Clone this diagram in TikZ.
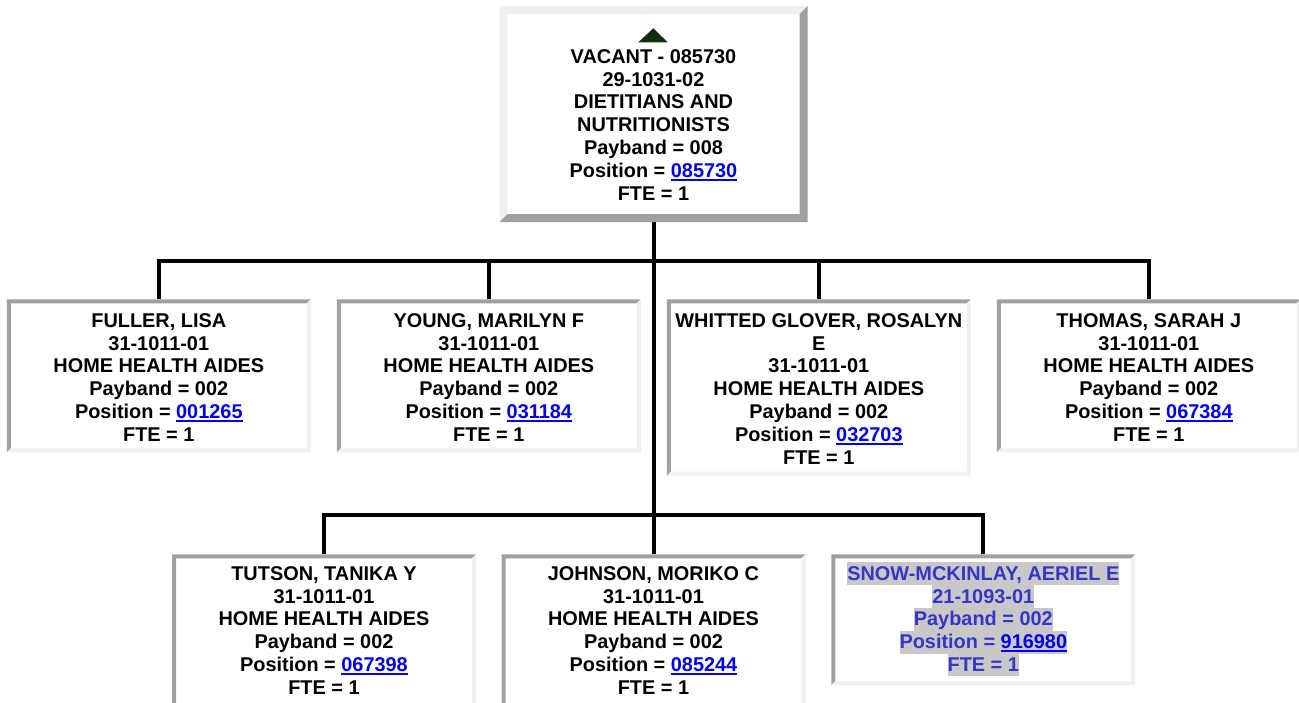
\documentclass[tikz,border=0pt]{standalone}
\usepackage{fontspec}
\setmainfont{Liberation Sans}
\definecolor{bdark}{HTML}{A0A0A0}
\definecolor{blight}{HTML}{F0F0F0}
\definecolor{linkblue}{HTML}{0000EE}
\definecolor{snowblue}{HTML}{3535C8}
\definecolor{hlgray}{HTML}{C8C8C8}
\definecolor{tri}{HTML}{0F2E12}
\newcommand\st{\rule[-4.8pt]{0pt}{22.8pt}}
\newcommand\lnk[1]{{\color{linkblue}\setbox0\hbox{#1}\rlap{\rule[-3.6pt]{\wd0}{2pt}}\box0}}
\newcommand\hlt[1]{{\setlength\fboxsep{0pt}\colorbox{hlgray}{\st#1}}}
\newcommand\bevel[4]{%
  \fill[#3] (#1.north west) -- (#1.north east) -- ([shift={(-#2pt,-#2pt)}]#1.north east)
    -- ([shift={(#2pt,-#2pt)}]#1.north west) -- ([shift={(#2pt,#2pt)}]#1.south west)
    -- (#1.south west) -- cycle;
  \fill[#4] (#1.north east) -- (#1.south east) -- (#1.south west)
    -- ([shift={(#2pt,#2pt)}]#1.south west) -- ([shift={(-#2pt,#2pt)}]#1.south east)
    -- ([shift={(-#2pt,-#2pt)}]#1.north east) -- cycle;}
\begin{document}
\begin{tikzpicture}[x=1pt,y=-1pt,
  box/.style={rectangle,inner sep=0pt,outer sep=0pt,minimum width=304pt},
  txt/.style={anchor=north,align=center,inner sep=0pt,outer sep=0pt,
    font=\fontsize{19.9}{22.8}\selectfont\bfseries},
  conn/.style={line width=4pt,draw=black}]
\useasboundingbox (0,0) rectangle (1299,702);
\clip (0,0) rectangle (1299,702);

% boxes
\node[box,minimum width=308pt,minimum height=216pt] (top) at (653.5,114) {};
\node[box,minimum height=153pt] (fuller) at (158.8,375.8) {};
\node[box,minimum height=153pt] (young) at (488.8,375.8) {};
\node[box,minimum height=176.4pt] (whitted) at (818.8,387.5) {};
\node[box,minimum height=153pt] (thomas) at (1148.8,375.8) {};
\node[box,minimum height=157.7pt] (tutson) at (324,633.15) {};
\node[box,minimum height=157.7pt] (johnson) at (653.5,633.15) {};
\node[box,minimum height=130.7pt] (snow) at (983.3,619.65) {};

% connectors
\coordinate (bus1) at (653.5,261.3);
\coordinate (bus2) at (653.5,515.3);
\draw[conn] (top.south) -- (johnson.north);
\draw[conn] (fuller.north) |- (bus1) -| (thomas.north);
\draw[conn] (young.north) -- (young.north |- bus1);
\draw[conn] (whitted.north) -- (whitted.north |- bus1);
\draw[conn] (tutson.north) |- (bus2) -| (snow.north);

% borders
\bevel{top}{8}{blight}{bdark}
\foreach \b in {fuller,young,whitted,thomas,tutson,johnson,snow}{\bevel{\b}{4}{bdark}{blight}}

% marker
\fill[tri] (638.3,42.3) -- (653.3,28.3) -- (667.7,42.3) -- cycle;

% texts
\node[txt] (top-t) at ([yshift=-39.3pt]top.north) {\st VACANT - 085730\\ \st 29-1031-02\\ \st DIETITIANS AND\\ \st NUTRITIONISTS\\ \st Payband = 008\\ \st Position = \lnk{085730}\\ \st FTE = 1};
\node[txt] (fuller-t) at ([yshift=-10pt]fuller.north) {\st FULLER, LISA\\ \st 31-1011-01\\ \st HOME HEALTH AIDES\\ \st Payband = 002\\ \st Position = \lnk{001265}\\ \st FTE = 1};
\node[txt] (young-t) at ([yshift=-10pt]young.north) {\st YOUNG, MARILYN F\\ \st 31-1011-01\\ \st HOME HEALTH AIDES\\ \st Payband = 002\\ \st Position = \lnk{031184}\\ \st FTE = 1};
\node[txt] (whitted-t) at ([yshift=-10pt]whitted.north) {\st WHITTED GLOVER, ROSALYN\\ \st E\\ \st 31-1011-01\\ \st HOME HEALTH AIDES\\ \st Payband = 002\\ \st Position = \lnk{032703}\\ \st FTE = 1};
\node[txt] (thomas-t) at ([yshift=-10pt]thomas.north) {\st THOMAS, SARAH J\\ \st 31-1011-01\\ \st HOME HEALTH AIDES\\ \st Payband = 002\\ \st Position = \lnk{067384}\\ \st FTE = 1};
\node[txt] (tutson-t) at ([yshift=-8pt]tutson.north) {\st TUTSON, TANIKA Y\\ \st 31-1011-01\\ \st HOME HEALTH AIDES\\ \st Payband = 002\\ \st Position = \lnk{067398}\\ \st FTE = 1};
\node[txt] (johnson-t) at ([yshift=-8pt]johnson.north) {\st JOHNSON, MORIKO C\\ \st 31-1011-01\\ \st HOME HEALTH AIDES\\ \st Payband = 002\\ \st Position = \lnk{085244}\\ \st FTE = 1};
\node[txt,text=snowblue] (snow-t) at ([yshift=-8pt]snow.north) {\hlt{SNOW-MCKINLAY, AERIEL E}\\ \hlt{21-1093-01}\\ \hlt{Payband = 002}\\ \hlt{Position = \lnk{916980}}\\ \hlt{FTE = 1}};
\end{tikzpicture}
\end{document}
